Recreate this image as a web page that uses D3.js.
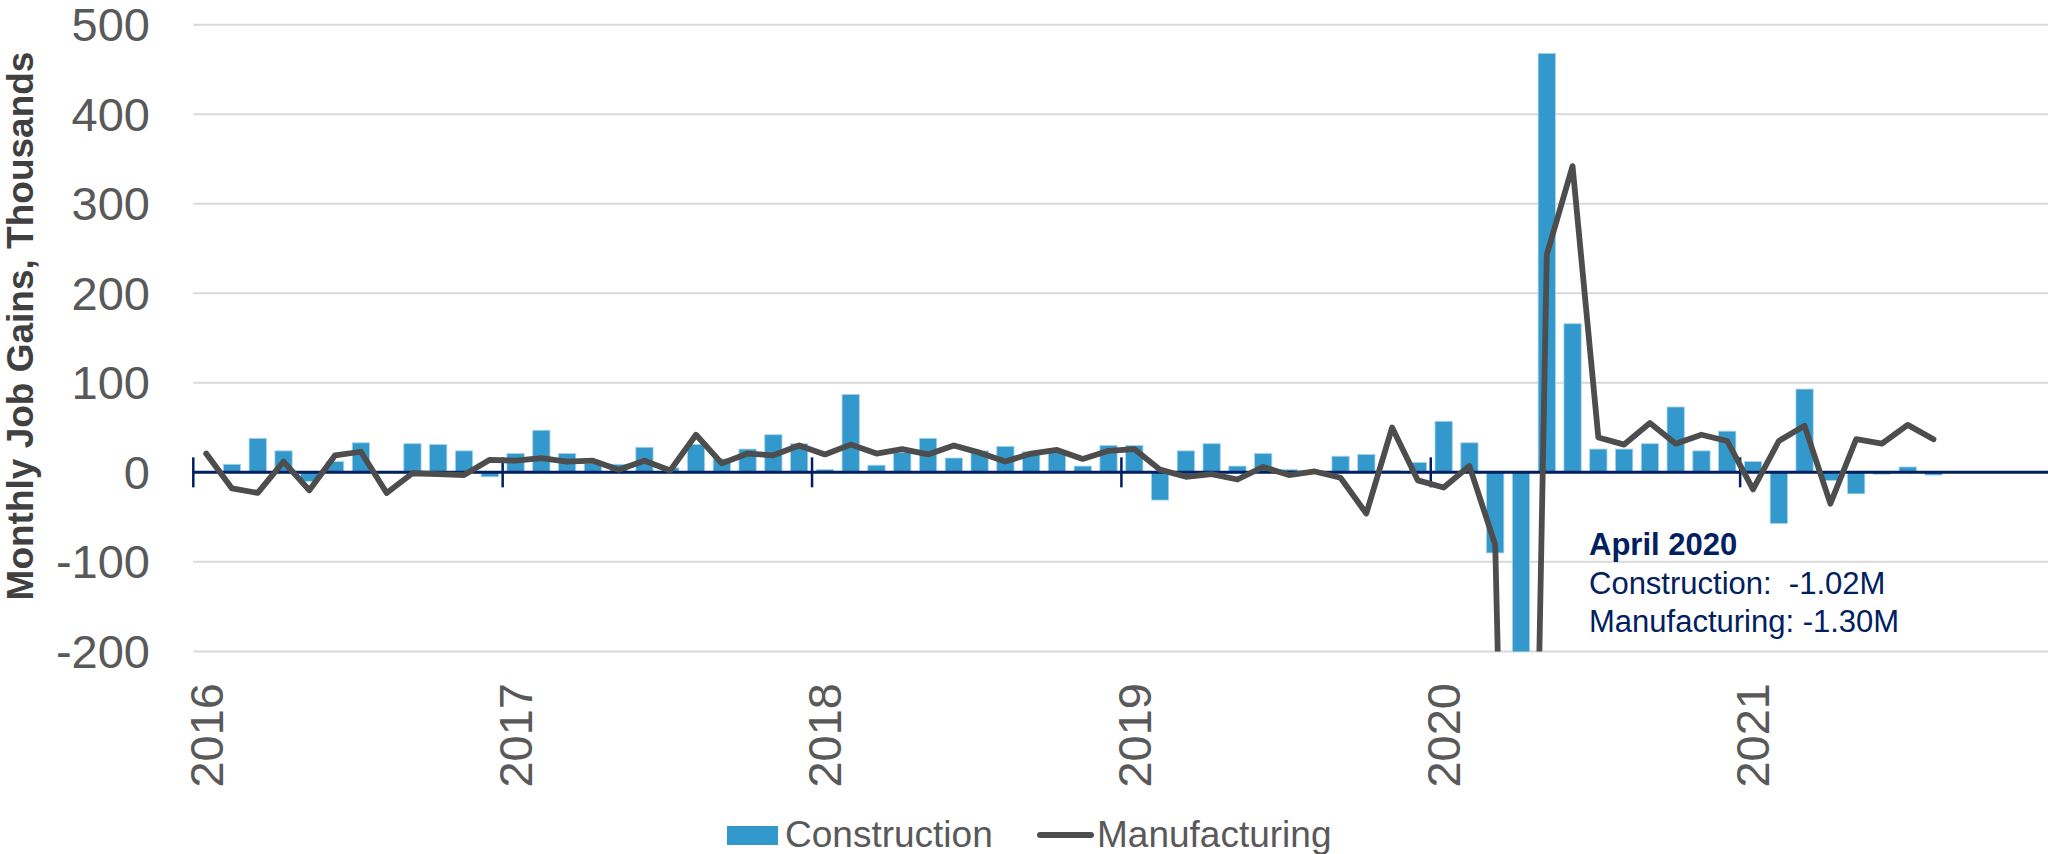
<!DOCTYPE html>
<html>
<head>
<meta charset="utf-8">
<script src="https://cdn.jsdelivr.net/npm/d3@7"></script>
<style>
  body { margin: 0; background: #fff; }
  svg { display: block; font-family: Arial, "Liberation Sans", sans-serif; }
</style>
</head>
<body>
<svg id="chart" width="2048" height="854"></svg>
<script>
const years = [2016, 2017, 2018, 2019, 2020, 2021];
const monthNames = ["Jan", "Feb", "Mar", "Apr", "May", "Jun", "Jul", "Aug", "Sep", "Oct", "Nov", "Dec"];
const yTicks = [-200, -100, 0, 100, 200, 300, 400, 500];

// monthly change, thousands (Jan 2016 .. Aug 2021)
const construction = [
  1, 9, 38, 24, -10, 12, 33, 1, 32, 31, 24, -5,
  21, 47, 21, 10, 9, 28, 5, 31, 15, 26, 42, 32,
  3, 87, 8, 22, 38, 16, 24, 29, 23, 22, 7, 30,
  30, -31, 24, 32, 7, 21, 3, 2, 18, 20, 2, 11,
  57, 33, -90, -1020, 468, 166, 26, 26, 32, 73, 24, 46,
  12, -57, 93, -9, -24, -2, 6, -3
];
const manufacturing = [
  21, -18, -23, 12, -20, 19, 23, -23, -1, -2, -3, 14,
  13, 16, 12, 13, 3, 13, 2, 42, 10, 21, 19, 30,
  20, 31, 21, 26, 20, 30, 22, 12, 21, 25, 15, 24,
  26, 3, -5, -2, -8, 6, -3, 1, -6, -46, 50, -9,
  -17, 7, -81, -1300, 243, 342, 39, 31, 55, 32, 42, 35,
  -19, 35, 52, -35, 37, 32, 53, 37
];
const seriesNames = ["Construction", "Manufacturing"];
const noteLines = ["April 2020", "Construction:  -1.02M", "Manufacturing: -1.30M"];

const months = years.flatMap(yr => monthNames.map(m => `${m} ${yr}`));

const svg = d3.select("#chart");
const plotLeft = 193.3, plotRight = 2049.5, plotTop = 24.7, plotBottom = 651.4;
const navy = "#002060", grey = "#595959", barColor = "#3399cc", lineColor = "#4d4d4d";

const x = d3.scaleBand().domain(months).range([plotLeft, plotRight]).paddingInner(0.33).paddingOuter(0.165);
const y = d3.scaleLinear().domain([-200, 500]).range([plotBottom, plotTop]);
const bw = x.bandwidth();
const gap = x.step() - bw;

svg.append("clipPath").attr("id", "plot")
  .append("rect")
  .attr("x", plotLeft).attr("y", plotTop - 10)
  .attr("width", plotRight - plotLeft).attr("height", plotBottom - plotTop + 10);

// gridlines
svg.append("g").selectAll("line").data(yTicks).join("line")
  .attr("x1", plotLeft).attr("x2", 2048)
  .attr("y1", d => y(d)).attr("y2", d => y(d))
  .attr("stroke", "#d9d9d9").attr("stroke-width", 2);

svg.append("g").selectAll("text").data(yTicks).join("text")
  .attr("x", 150).attr("y", d => y(d)).attr("dy", "0.35em")
  .attr("text-anchor", "end").attr("font-size", 47).attr("fill", grey)
  .text(d => d);

// construction bars
svg.append("g").attr("clip-path", "url(#plot)")
  .selectAll("rect").data(construction).join("rect")
  .attr("x", (d, i) => x(months[i]))
  .attr("width", bw)
  .attr("y", d => y(Math.max(0, d)))
  .attr("height", d => Math.abs(y(d) - y(0)))
  .attr("fill", barColor)
  .attr("stroke", "#a9d3ec").attr("stroke-width", 0.8);

// zero axis + year ticks
svg.append("line")
  .attr("x1", plotLeft).attr("x2", 2048)
  .attr("y1", y(0)).attr("y2", y(0))
  .attr("stroke", navy).attr("stroke-width", 3);

svg.append("g").selectAll("line").data(years).join("line")
  .attr("x1", d => x(`Jan ${d}`) - gap / 2)
  .attr("x2", d => x(`Jan ${d}`) - gap / 2)
  .attr("y1", y(0) - 15).attr("y2", y(0) + 15)
  .attr("stroke", navy).attr("stroke-width", 2.5);

svg.append("g").selectAll("text").data(years).join("text")
  .attr("transform", d => `translate(${x(`Jan ${d}`) + bw / 2},683) rotate(-90)`)
  .attr("dy", "0.35em").attr("text-anchor", "end")
  .attr("font-size", 47).attr("fill", grey)
  .text(d => d);

// manufacturing line
const line = d3.line()
  .x((d, i) => x(months[i]) + bw / 2)
  .y(d => y(d));

svg.append("path").attr("clip-path", "url(#plot)")
  .datum(manufacturing)
  .attr("d", line)
  .attr("fill", "none")
  .attr("stroke", lineColor).attr("stroke-width", 5.8)
  .attr("stroke-linejoin", "round").attr("stroke-linecap", "round");

// axis title
svg.append("text")
  .attr("transform", `translate(20,326) rotate(-90)`)
  .attr("dy", "0.35em").attr("text-anchor", "middle")
  .attr("font-size", 37).attr("font-weight", "bold").attr("fill", "#404040")
  .text("Monthly Job Gains, Thousands");

// April 2020 note
svg.append("g").selectAll("text").data(noteLines).join("text")
  .attr("x", 1589).attr("y", (d, i) => 555 + i * 38.5)
  .attr("font-size", 31).attr("fill", navy)
  .attr("font-weight", (d, i) => i === 0 ? "bold" : "normal")
  .style("white-space", "pre")
  .text(d => d);

// legend
const legend = svg.append("g").attr("font-size", 37).attr("fill", grey);
legend.append("rect")
  .attr("x", 727).attr("y", 826).attr("width", 51).attr("height", 19)
  .attr("fill", barColor);
legend.append("text").attr("x", 785).attr("y", 847).text(seriesNames[0]);
legend.append("line")
  .attr("x1", 1040).attr("x2", 1091).attr("y1", 835).attr("y2", 835)
  .attr("stroke", lineColor).attr("stroke-width", 6).attr("stroke-linecap", "round");
legend.append("text").attr("x", 1097).attr("y", 847).text(seriesNames[1]);
</script>
</body>
</html>
